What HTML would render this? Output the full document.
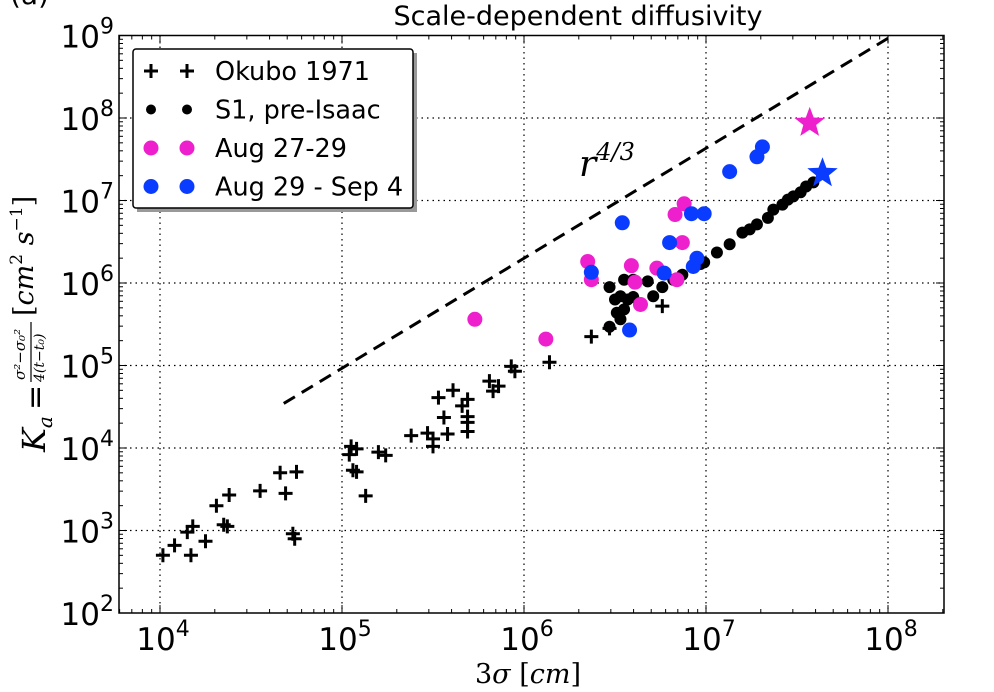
<!DOCTYPE html>
<html><head><meta charset="utf-8"><style>
body{margin:0;background:#fff;width:994px;height:692px;overflow:hidden}
svg{display:block}
text{font-family:"DejaVu Sans","Liberation Sans",sans-serif}
.ser{font-family:"DejaVu Serif","Liberation Serif",serif;font-style:italic}
</style></head><body>
<svg id="chart" width="994" height="692" viewBox="0 0 994 692" xmlns="http://www.w3.org/2000/svg">
<text x="10" y="4" font-size="28">(a)</text>
<text x="578" y="25" font-size="27" text-anchor="middle">Scale-dependent diffusivity</text>
<g id="grid"></g>
<g id="axes"></g>
<g id="marks"></g>
<text x="579" y="176" font-size="36" class="ser">r<tspan font-size="24" dy="-16">4/3</tspan></text>
<text x="528" y="683" font-size="27" text-anchor="middle" class="ser"><tspan font-style="normal">3</tspan>σ <tspan font-style="normal">[</tspan>cm<tspan font-style="normal">]</tspan></text>
<g transform="translate(45,330) rotate(-90)">
<text x="-122" y="0" font-size="32" class="ser">K<tspan font-size="20" dy="7">a</tspan></text>
<text x="-80" y="0" font-size="30">=</text>
<text x="-50" y="-20" font-size="15" class="ser">σ²−σ₀²</text>
<line x1="-52" y1="-14" x2="8" y2="-14" stroke="#000" stroke-width="1.2"/>
<text x="-52" y="-1" font-size="14" class="ser">4(t−t₀)</text>
<text x="14" y="-12" font-size="27" class="ser"><tspan font-style="normal">[</tspan>cm<tspan font-size="17" dy="-11" font-style="normal">2</tspan><tspan dy="11"> s</tspan><tspan font-size="17" dy="-11" font-style="normal">−1</tspan><tspan dy="11" font-style="normal">]</tspan></text>
</g>
<g id="legend"></g>
</svg>
<script>
// data in log10 units
const okuboX=[4.016,4.08,4.17,4.15,4.18,4.25,4.31,4.35,4.37,4.38,4.55,4.66,4.69,4.75,4.73,4.74,5.04,5.05,5.08,5.06,5.08,5.13,5.20,5.24,5.38,5.47,5.50,5.50,5.58,5.53,5.61,5.56,5.66,5.69,5.69,5.69,5.69,5.81,5.86,5.83,5.93,5.95,6.14,6.37,6.47,6.76];
const okuboY=[2.70,2.82,2.70,2.98,3.05,2.87,3.30,3.07,3.05,3.43,3.48,3.70,3.45,3.71,2.96,2.90,3.92,4.02,3.99,3.73,3.71,3.42,3.95,3.91,4.15,4.18,4.11,4.02,4.17,4.61,4.70,4.37,4.51,4.59,4.38,4.31,4.20,4.81,4.75,4.69,4.99,4.93,5.04,5.35,5.45,5.72];
const s1X=[6.47,6.50,6.53,6.55,6.60,6.68,6.57,6.60,6.71,6.76,6.51,6.55,6.47,6.53,6.82,6.87,6.93,6.97,6.99,7.06,7.13,7.20,7.24,7.28,7.34,7.37,7.42,7.45,7.48,7.52,7.55,7.59];
const s1Y=[5.95,5.80,5.84,6.04,6.04,6.02,5.80,5.83,5.84,5.95,5.64,5.68,5.47,5.56,6.04,6.10,6.19,6.23,6.25,6.37,6.47,6.61,6.65,6.71,6.79,6.89,6.95,7.01,7.05,7.10,7.17,7.22];
const augX=[6.12,6.35,6.37,6.59,6.61,6.64,6.73,6.84,6.83,6.88,6.87,5.73];
const augY=[5.32,6.26,6.04,6.21,6.01,5.74,6.18,6.04,6.83,6.96,6.49,5.56];
const sepX=[6.37,6.54,6.58,6.77,6.80,6.92,6.99,6.93,6.95,7.13,7.28,7.31];
const sepY=[6.13,6.73,5.43,6.12,6.49,6.84,6.84,6.20,6.30,7.35,7.53,7.65];
const starAug=[7.57,7.94];
const starSep=[7.64,7.33];
const lineX=[4.68,8.0];
const slope=4/3, lineY0=4.54;
const xTicks=[4,5,6,7,8];
const yTicks=[2,3,4,5,6,7,8,9];

const NS="http://www.w3.org/2000/svg";
const L=119,R=944,T=35.5,B=613;
const xMin=4-(160-119)/182, xMax=8+(944-888)/182;
const sx=v=>L+(v-xMin)/(xMax-xMin)*(R-L);
const sy=v=>B-(v-2)/7*(B-T);
function mk(tag,at,parent){const e=document.createElementNS(NS,tag);for(const k in at)e.setAttribute(k,at[k]);parent.appendChild(e);return e;}
const grid=document.getElementById('grid'),axes=document.getElementById('axes'),marks=document.getElementById('marks'),leg=document.getElementById('legend');
mk('rect',{x:L,y:T,width:R-L,height:B-T,fill:'#fff'},grid);
xTicks.forEach(t=>{const x=sx(t);
 const g=mk('line',{x1:x,y1:T,x2:x,y2:B,stroke:'#000','stroke-width':1.2,'stroke-dasharray':'1.5 4'},grid);
 
 const tx=mk('text',{x:x+3,y:650,'font-size':31,'text-anchor':'middle'},axes);tx.textContent='10';
 const sp=mk('tspan',{'font-size':22,dy:-14},tx);sp.textContent=t;
 
});
yTicks.forEach(t=>{const y=sy(t);
 if(t>2&&t<9){const g=mk('line',{x1:L,y1:y,x2:R,y2:y,stroke:'#000','stroke-width':1.2,'stroke-dasharray':'1.5 4'},grid);
 }
 const tx=mk('text',{x:114,y:y+12,'font-size':31,'text-anchor':'end'},axes);tx.textContent='10';
 const sp=mk('tspan',{'font-size':22,dy:-14},tx);sp.textContent=t;
 
});
for(let d=3;d<=8;d++)for(let m=1;m<10;m++){const v=d+Math.log10(m);if(v<xMin||v>xMax)continue;const x=sx(v);const len=m==1?8:4;
 mk('line',{x1:x,y1:B,x2:x,y2:B-len,stroke:'#000','stroke-width':1},axes);mk('line',{x1:x,y1:T,x2:x,y2:T+len,stroke:'#000','stroke-width':1},axes);}
for(let d=2;d<=9;d++)for(let m=1;m<10;m++){const v=d+Math.log10(m);if(v>9)continue;const y=sy(v);const len=m==1?8:4;
 mk('line',{x1:L,y1:y,x2:L+len,y2:y,stroke:'#000','stroke-width':1},axes);mk('line',{x1:R,y1:y,x2:R-len,y2:y,stroke:'#000','stroke-width':1},axes);}
mk('rect',{x:L,y:T,width:R-L,height:B-T,fill:'none',stroke:'#000','stroke-width':1.5},axes);
const dl=mk('line',{x1:sx(lineX[0]),y1:sy(lineY0),x2:sx(lineX[1]),y2:sy(lineY0+slope*(lineX[1]-lineX[0])),stroke:'#000','stroke-width':3,'stroke-dasharray':'13 8'},marks);

function cross(x,y,p){return mk('path',{d:`M${x-7} ${y}H${x+7}M${x} ${y-7}V${y+7}`,stroke:'#000','stroke-width':3,fill:'none'},p);}
okuboX.forEach((v,i)=>{const c=cross(sx(v),sy(okuboY[i]),marks);
 });
s1X.forEach((v,i)=>{const c=mk('circle',{cx:sx(v),cy:sy(s1Y[i]),r:6,fill:'#000'},marks);
 });
augX.forEach((v,i)=>{const c=mk('circle',{cx:sx(v),cy:sy(augY[i]),r:7.5,fill:'#ee1fcc'},marks);
 });
sepX.forEach((v,i)=>{const c=mk('circle',{cx:sx(v),cy:sy(sepY[i]),r:7.5,fill:'#0a3cff'},marks);
 });
function star(cx,cy,r,fill){let p='';for(let k=0;k<10;k++){const a=-Math.PI/2+k*Math.PI/5;const rr=k%2?r*0.42:r;p+=(k?'L':'M')+(cx+rr*Math.cos(a)).toFixed(1)+' '+(cy+rr*Math.sin(a)).toFixed(1);}return mk('path',{d:p+'Z',fill:fill},marks);}
const s1=star(sx(starAug[0]),sy(starAug[1]),16,'#ee1fcc');

const s2=star(sx(starSep[0]),sy(starSep[1]),16,'#0a3cff');

mk('rect',{x:137,y:53,width:280,height:159,fill:'#999'},leg);
mk('rect',{x:133,y:49,width:280,height:159,fill:'#fff',stroke:'#000','stroke-width':1.5,rx:3},leg);
const entries=[['Okubo 1971','cross','#000'],['S1, pre-Isaac','dot','#000'],['Aug 27-29','big','#ee1fcc'],['Aug 29 - Sep 4','big','#0a3cff']];
entries.forEach((e,i)=>{const y=71+i*38.5;
 [151,187].forEach(x=>{if(e[1]=='cross')cross(x,y,leg);else mk('circle',{cx:x,cy:y,r:e[1]=='dot'?5:7.5,fill:e[2]},leg);});
 const t=mk('text',{x:215,y:y+9,'font-size':25.5},leg);t.textContent=e[0];
 
});
</script>
</body></html>
